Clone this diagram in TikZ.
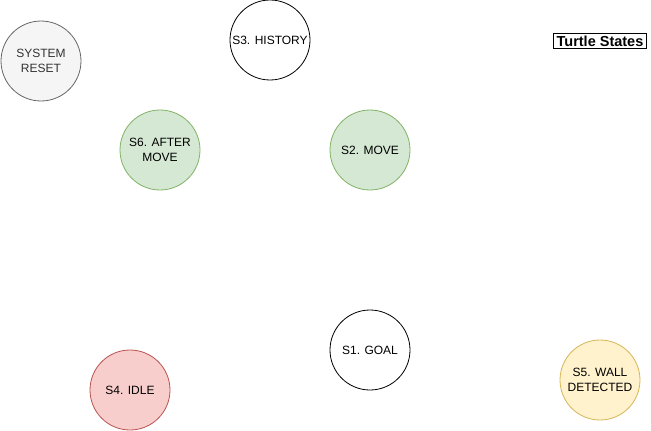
\documentclass[tikz,border=0pt]{standalone}
\usepackage{fontspec}
\setmainfont{Liberation Sans}
\usepackage{xcolor}
\definecolor{grayfill}{HTML}{F5F5F5}
\definecolor{grayline}{HTML}{666666}
\definecolor{greenfill}{HTML}{D5E8D4}
\definecolor{greenline}{HTML}{82B366}
\definecolor{redfill}{HTML}{F8CECC}
\definecolor{redline}{HTML}{B85450}
\definecolor{yellowfill}{HTML}{FFF2CC}
\definecolor{yellowline}{HTML}{D6B656}

\begin{document}
\begin{tikzpicture}[x=1pt,y=-1pt,font=\fontsize{12}{14.5}\selectfont,
  state/.style={circle,draw,fill=white,minimum size=80pt,inner sep=0pt,align=center,line width=0.8pt}]
  \useasboundingbox (0,0) rectangle (651,431);

  % title
  \node[draw,font=\fontsize{14.5}{16}\selectfont\bfseries,inner xsep=3pt,inner ysep=2pt] (title) at (600,41) {Turtle States};

  % reset state (gray)
  \node[state,draw=grayline,fill=grayfill,text=black!80] (reset) at (41,61) {SYSTEM\\RESET};

  % plain states
  \node[state] (history) at (270,40) {S3. HISTORY};
  \node[state] (goal) at (370,350) {S1. GOAL};

  % moving states (green)
  \node[state,draw=greenline,fill=greenfill] (aftermove) at (160,150) {S6. AFTER\\MOVE};
  \node[state,draw=greenline,fill=greenfill] (move) at (370,150) {S2. MOVE};

  % idle (red) and wall (yellow)
  \node[state,draw=redline,fill=redfill] (idle) at (130,390) {S4. IDLE};
  \node[state,draw=yellowline,fill=yellowfill] (wall) at (600,380) {S5. WALL\\DETECTED};
\end{tikzpicture}
\end{document}
